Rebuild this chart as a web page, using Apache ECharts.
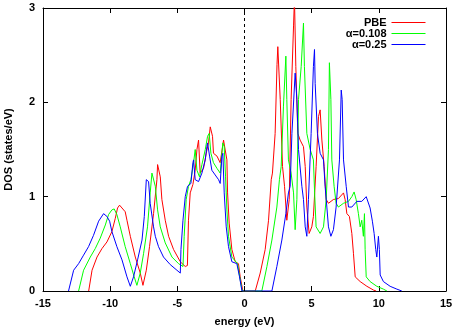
<!DOCTYPE html>
<html>
<head>
<meta charset="utf-8">
<script src="https://cdn.jsdelivr.net/npm/echarts@6/dist/echarts.min.js"></script>
<style>
html,body{margin:0;padding:0;background:#fff;}
#c{width:454px;height:328px;}
</style>
</head>
<body>
<div id="c"></div>
<script>
// Tick labels
var xTicks = [-15, -10, -5, 0, 5, 10, 15];
var yTicks = [0, 1, 2, 3];
var seriesNames = ['PBE', 'α=0.108', 'α=0.25'];
var seriesColors = ['#ff0000', '#00ff00', '#0000ff'];

// PBE  [energy (eV), DOS]
var pbeData = [
[-11.6,0],[-11.35,0.22],[-10.98,0.36],[-10.61,0.45],[-10.24,0.52],[-9.87,0.63],[-9.62,0.77],[-9.45,0.88],[-9.30,0.91],[-9.12,0.88],[-8.88,0.84],[-8.75,0.75],[-8.50,0.58],[-8.13,0.36],[-7.76,0.19],[-7.56,0.06],[-7.31,0.22],[-7.07,0.47],[-6.77,0.82],[-6.52,1.18],[-6.47,1.34],[-6.27,1.21],[-6.15,0.97],[-5.90,0.75],[-5.65,0.58],[-5.28,0.44],[-4.78,0.31],[-4.41,0.26],[-4.25,0.27],[-4.17,0.75],[-4.04,1.04],[-3.84,1.13],[-3.67,1.28],[-3.54,1.50],[-3.42,1.60],[-3.30,1.25],[-3.05,1.30],[-2.85,1.46],[-2.68,1.57],[-2.55,1.74],[-2.48,1.76],[-2.38,1.64],[-2.31,1.46],[-2.05,1.43],[-1.81,1.36],[-1.56,1.60],[-1.44,1.62],[-1.31,1.39],[-1.26,1.04],[-1.14,0.72],[-0.94,0.44],[-0.69,0.31],[-0.45,0.29],[-0.32,0.15],[-0.12,0],
[0.80,0],[1.17,0.19],[1.54,0.44],[1.79,0.75],[1.99,1.18],[2.08,1.25],[2.28,1.67],[2.42,2.4],[2.48,2.59],[2.58,2.59],[2.66,2.03],[2.83,1.32],[2.98,1.11],[3.15,0.75],[3.33,0.97],[3.47,2.03],[3.65,2.81],[3.72,3.1],[3.82,2.38],[3.97,1.67],[4.14,1.60],[4.39,1.53],[4.52,1.32],[4.64,0.89],[4.81,0.61],[5.01,0.68],[5.13,0.79],[5.33,1.32],[5.51,1.85],[5.63,1.92],[5.76,1.60],[5.93,1.32],[6.08,0.97],[6.25,0.93],[6.62,0.97],[6.99,0.98],[7.37,1.04],[7.49,0.97],[7.62,0.82],[7.81,0.79],[7.99,0.61],[8.11,0.40],[8.24,0.15],[8.61,0.10],[9.11,0.05],[9.60,0.01],[9.8,0]
];

// alpha = 0.108
var a108Data = [
[-12.35,0],[-11.98,0.22],[-11.48,0.36],[-11.11,0.45],[-10.74,0.56],[-10.36,0.70],[-10.12,0.81],[-9.87,0.86],[-9.70,0.87],[-9.50,0.81],[-9.25,0.68],[-8.88,0.47],[-8.50,0.29],[-8.21,0.15],[-8.01,0.06],[-7.76,0.19],[-7.51,0.40],[-7.22,0.68],[-7.02,1.04],[-6.89,1.25],[-6.80,1.27],[-6.64,1.11],[-6.47,0.86],[-6.27,0.68],[-5.90,0.51],[-5.40,0.36],[-4.91,0.29],[-4.58,0.26],[-4.49,0.58],[-4.34,0.97],[-4.17,1.11],[-3.99,1.18],[-3.79,1.36],[-3.67,1.50],[-3.54,1.28],[-3.35,1.21],[-3.17,1.34],[-2.92,1.50],[-2.75,1.64],[-2.63,1.67],[-2.50,1.46],[-2.31,1.36],[-2.05,1.30],[-1.81,1.25],[-1.61,1.57],[-1.51,1.53],[-1.41,1.21],[-1.31,0.86],[-1.19,0.58],[-0.94,0.36],[-0.52,0.29],[-0.32,0.12],[-0.17,0],
[1.29,0],[1.67,0.26],[2.04,0.54],[2.41,0.89],[2.60,1.18],[2.73,1.32],[2.90,1.96],[3.08,2.49],[3.15,2.03],[3.27,1.39],[3.47,1.25],[3.65,1.04],[3.77,0.65],[3.90,0.97],[4.02,2.03],[4.22,2.38],[4.39,2.84],[4.46,2.38],[4.64,1.67],[4.89,1.50],[5.13,1.39],[5.22,1.04],[5.33,0.68],[5.63,0.61],[5.88,0.68],[6.08,0.97],[6.25,1.50],[6.32,2.42],[6.43,2.03],[6.50,1.39],[6.67,1.11],[6.82,0.93],[6.99,0.89],[7.37,0.93],[7.74,0.95],[7.99,1.00],[8.16,1.05],[8.31,0.97],[8.48,0.82],[8.61,0.68],[8.73,0.75],[8.85,0.58],[8.93,0.82],[8.98,0.44],[9.06,0.15],[9.35,0.10],[9.85,0.05],[10.34,0.02],[10.6,0]
];

// alpha = 0.25
var a25Data = [
[-13.1,0],[-12.72,0.22],[-12.35,0.29],[-11.98,0.38],[-11.61,0.47],[-11.24,0.59],[-10.86,0.74],[-10.49,0.82],[-10.24,0.79],[-10.04,0.74],[-9.87,0.63],[-9.50,0.47],[-9.12,0.33],[-8.75,0.15],[-8.50,0.05],[-8.26,0.15],[-7.96,0.33],[-7.63,0.54],[-7.46,0.79],[-7.31,1.18],[-7.26,1.19],[-7.14,1.16],[-7.02,0.93],[-6.77,0.68],[-6.64,0.58],[-6.40,0.47],[-6.03,0.36],[-5.53,0.28],[-5.03,0.22],[-4.78,0.19],[-4.73,0.44],[-4.58,0.75],[-4.41,1.00],[-4.24,1.11],[-3.99,1.14],[-3.84,1.36],[-3.79,1.39],[-3.67,1.18],[-3.42,1.16],[-3.17,1.25],[-2.92,1.39],[-2.80,1.53],[-2.75,1.57],[-2.60,1.43],[-2.43,1.28],[-2.18,1.23],[-1.93,1.18],[-1.81,1.14],[-1.68,1.43],[-1.61,1.46],[-1.51,1.04],[-1.36,0.68],[-1.19,0.47],[-0.94,0.31],[-0.57,0.29],[-0.37,0.15],[-0.19,0],
[2.04,0],[2.41,0.26],[2.78,0.54],[3.08,0.82],[3.27,1.04],[3.40,1.11],[3.53,1.67],[3.77,2.31],[3.90,2.03],[4.02,1.50],[4.27,1.11],[4.39,0.97],[4.52,0.68],[4.64,0.58],[4.76,0.97],[4.96,1.67],[5.13,2.38],[5.21,2.56],[5.26,2.20],[5.43,1.67],[5.63,1.46],[5.88,1.39],[6.00,1.11],[6.13,0.89],[6.25,0.68],[6.43,0.58],[6.62,0.65],[6.82,0.89],[7.07,1.39],[7.20,2.13],[7.27,2.03],[7.37,1.39],[7.57,1.11],[7.74,0.89],[7.99,0.89],[8.36,0.95],[8.73,0.95],[9.06,1.00],[9.11,1.00],[9.35,0.88],[9.52,0.74],[9.65,0.61],[9.77,0.44],[9.85,0.36],[9.97,0.58],[10.04,0.44],[10.10,0.17],[10.34,0.10],[10.84,0.05],[11.34,0.02],[11.71,0]
];

var FONT = '"Liberation Sans", Arial, sans-serif';
var chart = echarts.init(document.getElementById('c'), null, {renderer: 'canvas'});

function mkX(pos, show) {
  return {
    type: 'value', position: pos, min: xTicks[0], max: xTicks[xTicks.length-1], interval: 5,
    axisLine: {show: true, onZero: false, lineStyle: {color: '#000', width: 1}},
    axisTick: {show: true, inside: true, length: 5, lineStyle: {color: '#000'}},
    axisLabel: {show: show, margin: 7, color: '#000', fontFamily: FONT, fontWeight: 'bold', fontSize: 11},
    splitLine: {show: false},
    name: show ? 'energy (eV)' : '', nameLocation: 'middle', nameGap: 25,
    nameTextStyle: {color: '#000', fontFamily: FONT, fontWeight: 'bold', fontSize: 11}
  };
}
function mkY(pos, show) {
  return {
    type: 'value', position: pos, min: yTicks[0], max: yTicks[yTicks.length-1], interval: 1,
    axisLine: {show: true, onZero: false, lineStyle: {color: '#000', width: 1}},
    axisTick: {show: true, inside: true, length: 5, lineStyle: {color: '#000'}},
    axisLabel: {show: show, margin: 8, color: '#000', fontFamily: FONT, fontWeight: 'bold', fontSize: 11},
    splitLine: {show: false},
    name: show ? 'DOS (states/eV)' : '', nameLocation: 'middle', nameGap: 29,
    nameTextStyle: {color: '#000', fontFamily: FONT, fontWeight: 'bold', fontSize: 11}
  };
}

var datasets = [pbeData, a108Data, a25Data];
var series = datasets.map(function (d, i) {
  var s = {
    name: seriesNames[i], type: 'line', data: d, symbol: 'none', showSymbol: false,
    xAxisIndex: 0, yAxisIndex: 0, clip: true, animation: false,
    lineStyle: {color: seriesColors[i], width: 1}, itemStyle: {color: seriesColors[i]}
  };
  if (i === 0) {
    s.markLine = {
      silent: true, symbol: 'none', label: {show: false}, animation: false,
      lineStyle: {color: '#000', type: [3, 3], width: 1},
      data: [{xAxis: 0}]
    };
  }
  return s;
});

chart.setOption({
  animation: false,
  backgroundColor: '#fff',
  grid: {left: 43, right: 8, top: 8, bottom: 37, containLabel: false, outerBoundsMode: 'none'},
  xAxis: [mkX('bottom', true), mkX('top', false)],
  yAxis: [mkY('left', true), mkY('right', false)],
  legend: {
    orient: 'vertical', right: 23, top: 12, align: 'right',
    itemWidth: 34, itemHeight: 12, itemGap: 0,
    itemStyle: {opacity: 0, borderWidth: 0},
    lineStyle: {width: 1},
    textStyle: {color: '#000', fontFamily: FONT, fontWeight: 'bold', fontSize: 11},
    data: seriesNames
  },
  series: series
});
</script>
</body>
</html>
